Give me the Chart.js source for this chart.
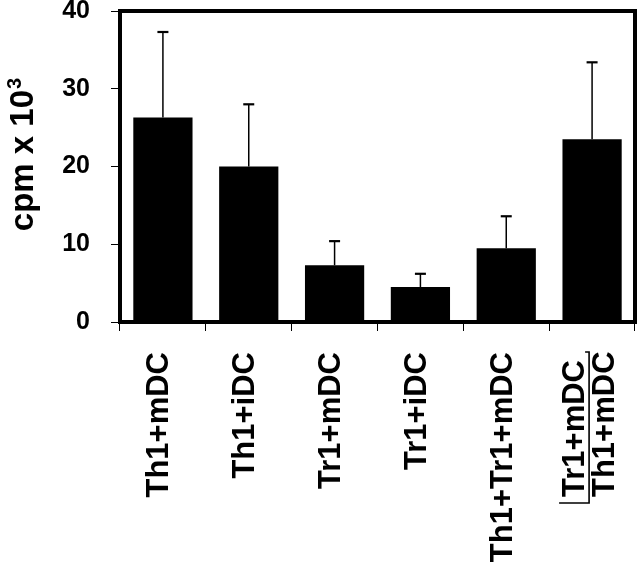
<!DOCTYPE html>
<html>
<head>
<meta charset="utf-8">
<script src="https://cdn.jsdelivr.net/npm/chart.js@4"></script>
<style>
  html, body { margin: 0; padding: 0; background: #fff; }
  #wrap { width: 640px; height: 567px; }
</style>
</head>
<body>
<div id="wrap"><canvas id="chart" width="640" height="567"></canvas></div>
<script>
// data
const categories = ['Th1+mDC', 'Th1+iDC', 'Tr1+mDC', 'Tr1+iDC', 'Th1+Tr1+mDC', ['Tr1+mDC', 'Th1+mDC']];
const meanCpm = [26.3, 20.0, 7.3, 4.5, 9.5, 23.5];
const errCpm = [11.0, 8.0, 3.1, 1.7, 4.1, 9.9];
const yTicks = [0, 10, 20, 30, 40];
const yTitle = 'cpm x 10';
const yTitleSup = '3';

const FONT = "'Liberation Sans', Arial, sans-serif";

// error bars, frame, axis title and the bracketed last label
const extras = {
    id: 'extras',
    afterDatasetsDraw(chart) {
        const ctx = chart.ctx;
        const ys = chart.scales.y;
        const meta = chart.getDatasetMeta(0);
        ctx.save();
        ctx.strokeStyle = '#000';
        meanCpm.forEach((v, i) => {
            const x = meta.data[i].x;
            const yTop = ys.getPixelForValue(v);
            const yErr = ys.getPixelForValue(v + errCpm[i]);
            ctx.lineWidth = 1.5;
            ctx.beginPath();
            ctx.moveTo(x, yTop);
            ctx.lineTo(x, yErr);
            ctx.stroke();
            ctx.lineWidth = 2.2;
            ctx.beginPath();
            ctx.moveTo(x - 5.5, yErr);
            ctx.lineTo(x + 5.5, yErr);
            ctx.stroke();
        });
        ctx.restore();
    },
    afterDraw(chart) {
        const ctx = chart.ctx;
        const a = chart.chartArea;
        const xs = chart.scales.x;
        ctx.save();
        // frame
        ctx.strokeStyle = '#000';
        ctx.lineWidth = 4;
        ctx.strokeRect(a.left, a.top, a.right - a.left, a.bottom - a.top);

        // y axis title with superscript
        const fs = 33;
        ctx.fillStyle = '#000';
        ctx.font = 'bold ' + fs + 'px ' + FONT;
        const wMain = ctx.measureText(yTitle).width;
        ctx.font = 'bold ' + Math.round(fs * 0.62) + 'px ' + FONT;
        const wSup = ctx.measureText(yTitleSup).width;
        const total = wMain + wSup + 1;
        const cy = (a.top + a.bottom) / 2 - 12;
        ctx.translate(33, cy);
        ctx.rotate(-Math.PI / 2);
        ctx.textAlign = 'left';
        ctx.textBaseline = 'alphabetic';
        ctx.font = 'bold ' + fs + 'px ' + FONT;
        ctx.fillText(yTitle, -total / 2, 0);
        ctx.font = 'bold ' + Math.round(fs * 0.62) + 'px ' + FONT;
        ctx.fillText(yTitleSup, -total / 2 + wMain + 1, -fs * 0.36);
        ctx.restore();

        // last, two-line label with its bracket
        const idx = categories.findIndex(c => Array.isArray(c));
        if (idx < 0) return;
        const lines = categories[idx];
        const cx = xs.getPixelForValue(idx) - 3;
        const lh = 30;
        const start = a.bottom + 175;
        ctx.save();
        ctx.fillStyle = '#000';
        ctx.font = 'bold 31px ' + FONT;
        ctx.textAlign = 'left';
        ctx.textBaseline = 'middle';
        const widths = [];
        lines.forEach((t, k) => {
            const x = cx + (k - (lines.length - 1) / 2) * lh;
            widths.push(ctx.measureText(t).width);
            ctx.save();
            ctx.translate(x + 1, start);
            ctx.rotate(-Math.PI / 2);
            ctx.fillText(t, 0, 0);
            ctx.restore();
        });
        // bracket under the first line
        const bx = cx - lh / 2 + 15;
        const yEnd = start + 6;
        const yBeg = start - widths[0] - 8;
        ctx.strokeStyle = '#000';
        ctx.lineWidth = 1.6;
        ctx.beginPath();
        ctx.moveTo(bx - 30, yEnd);
        ctx.lineTo(bx, yEnd);
        ctx.lineTo(bx, yBeg);
        ctx.lineTo(bx - 4, yBeg);
        ctx.stroke();
        ctx.restore();
    }
};

new Chart(document.getElementById('chart'), {
    type: 'bar',
    data: {
        labels: categories,
        datasets: [{
            data: meanCpm,
            backgroundColor: '#000',
            borderWidth: 0,
            barPercentage: 0.69,
            categoryPercentage: 1.0
        }]
    },
    options: {
        responsive: false,
        animation: false,
        events: [],
        layout: { padding: { top: 11, right: 5, left: 0, bottom: 0 } },
        plugins: {
            legend: { display: false },
            tooltip: { enabled: false },
            title: { display: false }
        },
        scales: {
            x: {
                offset: true,
                afterFit(s) {
                    s.height = 245;
                    s.paddingLeft = 0; s.paddingRight = 0;
                },
                grid: { offset: true, drawOnChartArea: false, drawTicks: true, tickLength: 9, color: '#000', lineWidth: 1 },
                border: { display: false },
                ticks: {
                    color: '#000',
                    font: { family: FONT, size: 31, weight: 'bold' },
                    minRotation: 90,
                    maxRotation: 90,
                    autoSkip: false,
                    padding: 21,
                    labelOffset: -3,
                    callback: (v, i) => Array.isArray(categories[i]) ? '' : categories[i]
                }
            },
            y: {
                min: yTicks[0],
                max: yTicks[yTicks.length - 1],
                afterFit(s) {
                    s.width = 120;
                    s.paddingTop = 0; s.paddingBottom = 0;
                },
                afterBuildTicks(s) { s.ticks = yTicks.map(v => ({ value: v })); },
                grid: { drawOnChartArea: false, drawTicks: true, tickLength: 9, color: '#000', lineWidth: 1 },
                border: { display: false },
                ticks: {
                    color: '#000',
                    font: { family: FONT, size: 25, weight: 'bold' },
                    padding: 21
                }
            }
        }
    },
    plugins: [extras]
});
</script>
</body>
</html>
